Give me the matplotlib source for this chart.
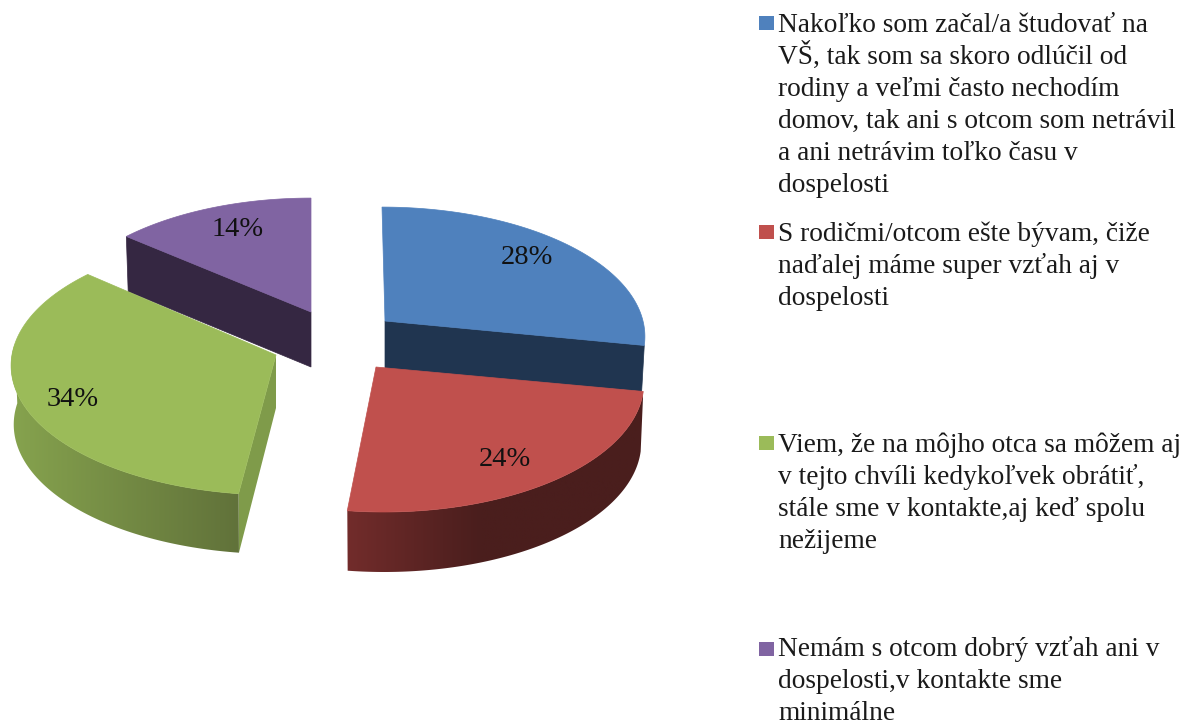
import matplotlib
matplotlib.use("Agg")
import matplotlib.pyplot as plt
from matplotlib.colors import LinearSegmentedColormap
from matplotlib.patches import Polygon, Rectangle
import numpy as np

# chart data
shares = [28, 24, 34, 14]
pct_labels = ["28%", "24%", "34%", "14%"]
legend_lines = [
    ["Nakoľko som začal/a študovať na", "VŠ, tak som sa skoro odlúčil od",
     "rodiny a veľmi často nechodím", "domov, tak ani s otcom som netrávil",
     "a ani netrávim toľko času v", "dospelosti"],
    ["S rodičmi/otcom ešte bývam, čiže", "naďalej máme super vzťah aj v", "dospelosti"],
    ["Viem, že na môjho otca sa môžem aj", "v tejto chvíli kedykoľvek obrátiť,",
     "stále sme v kontakte,aj keď spolu", "nežijeme"],
    ["Nemám s otcom dobrý vzťah ani v", "dospelosti,v kontakte sme", "minimálne"],
]

# colours
top_colors = ["#4f81bd", "#c0504d", "#9bbb59", "#8064a2"]
wall_colors = [("#203550", "#203550"), ("#722c2b", "#4a1e1d"),
               ("#86a34e", "#61723a"), ("#352742", "#352742")]
cut_colors = ["#203550", "#4a1e1d", "#7f9b4a", "#352742"]

# layout in pixels
apexes = [(385, 321), (376, 367), (276, 355), (311, 312)]
rim_centers = [(382, 321), (384, 367), (276, 350), (311, 312)]
radii = [261, 258, 263, 258]
depths = [46, 60, 59, 55]
apex_depths = [48, 60, 53, 55]
label_pos = [(527, 257), (505, 459), (73, 399), (238, 230)]
legend_first_baseline = [32, 241, 452, 656]
legend_markers_y = [16, 225, 436, 642]
S, P = 127.6, 0.12


def project(theta, center, r):
    # theta is clockwise from the back of the pie, mild perspective
    w = 1 + P * np.cos(theta)
    return center[0] + r * np.sin(theta) / w, center[1] - S * np.cos(theta) / w


def lowered(xs, ys, center, depth):
    return center[0] + (np.asarray(xs) - center[0]) * 0.99, np.asarray(ys) + depth


fig = plt.figure(figsize=(11.94, 7.24), dpi=100)
ax = fig.add_axes([0, 0, 1, 1])

edges = np.radians(np.cumsum([0] + shares) / sum(shares) * 360)

# back to front, the exploded slices do not overlap much
for i in [3, 0, 2, 1]:
    apex, center, depth = apexes[i], rim_centers[i], depths[i]
    theta = np.linspace(edges[i], edges[i + 1], 120)
    xs, ys = project(theta, center, radii[i])
    bx, by = lowered(xs, ys, center, depth)
    apex_low = (apex[0], apex[1] + apex_depths[i])

    # cut face on the end of the slice that turns towards the viewer
    if i == 2:
        face = [apex, (xs[0], ys[0]), (bx[0], by[0]), apex_low]
        ax.add_patch(Polygon(face, closed=True, fc=cut_colors[i], ec="none", zorder=i + 1))
    if i in (0, 3):
        end = -1 if i == 0 else 0
        face = [apex, (xs[end], ys[end]), (bx[end], by[end]), apex_low]
        ax.add_patch(Polygon(face, closed=True, fc=cut_colors[i], ec=cut_colors[i], lw=0.5, zorder=i + 1))

    # outer wall with a horizontal gradient, only the front half is seen
    front = np.cos(theta) < 0.05
    if i in (1, 2) and front.any():
        wall = np.column_stack([np.r_[xs[front], bx[front][::-1]], np.r_[ys[front], by[front][::-1]]])
        cmap = LinearSegmentedColormap.from_list("wall", wall_colors[i])
        grad = np.linspace(0, 1, 256).reshape(1, -1)
        if i == 1:
            grad = np.clip(grad / 0.45, 0, 1)
        im = ax.imshow(grad, cmap=cmap, aspect="auto", zorder=i + 1,
                       extent=[wall[:, 0].min(), wall[:, 0].max(), wall[:, 1].max(), wall[:, 1].min()])
        clip = Polygon(wall, closed=True, transform=ax.transData)
        im.set_clip_path(clip)

    # top surface
    pts = np.column_stack([np.r_[apex[0], xs], np.r_[apex[1], ys]])
    ax.add_patch(Polygon(pts, closed=True, fc=top_colors[i], ec=top_colors[i], lw=0.5, zorder=i + 2))
    ax.text(label_pos[i][0], label_pos[i][1], pct_labels[i], ha="center", va="center",
            fontsize=20.5, family="Liberation Serif", color="#111111", zorder=20)

# legend written by hand, wrapped lines as in the original
for i, lines in enumerate(legend_lines):
    ax.add_patch(Rectangle((759, legend_markers_y[i]), 15, 14, fc=top_colors[i], ec="none"))
    for k, line in enumerate(lines):
        ax.text(778, legend_first_baseline[i] + k * 31.9, line, ha="left", va="baseline",
                fontsize=19.7, family="Liberation Serif", color="#1a1a1a")

ax.set_xlim(0, 1194)
ax.set_ylim(724, 0)
ax.axis("off")

plt.savefig("out.png", dpi=100)
plt.close()
